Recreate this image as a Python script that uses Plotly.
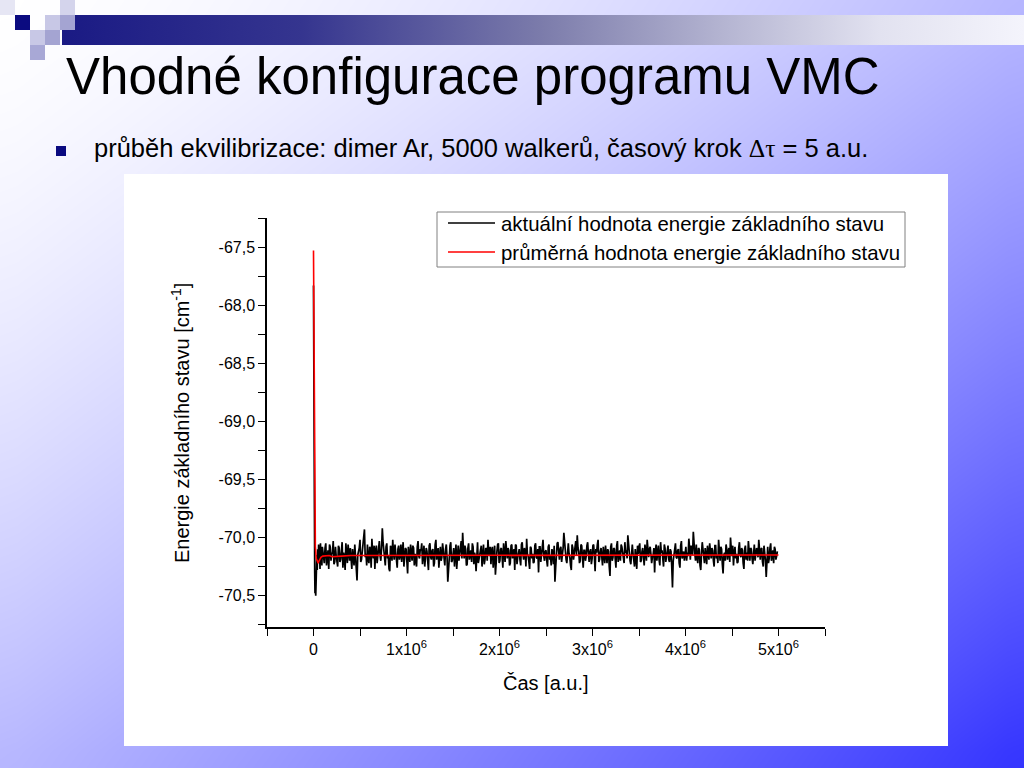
import plotly.graph_objects as go

W, H = 1024, 768

# ---------------- data ----------------
black_early_x = [0, 2000, 4000, 6000, 8000, 10000, 13000, 16000, 20000, 24000, 28000,
                 32000, 36000, 40000, 45000, 50000, 55000, 60000, 65000, 70000, 75000,
                 80000, 85000, 90000, 95000]
black_early_y = [-67.83, -68.6, -69.36, -69.6, -69.77, -70.1, -70.3, -70.48, -70.42, -70.5,
                 -70.3, -70.38, -70.15, -70.28, -70.1, -70.22, -70.06, -70.2, -70.12, -70.27,
                 -70.05, -70.18, -70.1, -70.24, -70.08]

noise_start = 100000
noise_step = 16000
# samples at noise_start + i*noise_step
black_noise_a = [
    -70.12, -70.22, -70.05, -70.18, -70.27, -70.08, -70.14, -70.03, -70.21, -70.16,
    -70.25, -70.09, -70.19, -70.04, -70.13, -70.28, -70.11, -70.06, -70.20, -70.15,
    -70.10, -70.24, -70.17, -70.37, -70.12, -70.02, -70.19, -70.08, -69.93, -70.14,
    -70.06, -70.22, -70.10, -70.01, -70.18, -70.27, -70.07, -70.13, -70.03, -70.20,
    -69.92, -70.11, -70.24, -70.05, -70.16, -70.29, -70.09, -70.02, -70.19, -70.12,
    -70.26, -70.07, -70.15, -70.21, -70.04, -70.17, -70.10, -70.31, -70.13, -70.06,
    -70.20, -70.09, -70.14, -70.25, -70.03, -70.18, -70.11, -70.23, -70.07, -70.16,
    -70.12, -70.28, -70.05, -70.19, -70.10, -70.22, -70.02, -70.15, -70.26, -70.08,
    -70.17, -70.11, -70.24, -70.06, -70.38, -70.13, -70.04, -70.20, -70.09, -70.16,
    -70.27, -70.07, -70.14, -70.03, -69.96, -70.18, -70.10, -70.23, -70.05, -70.15,
    -70.21, -70.08, -70.13, -70.29, -70.04, -70.17, -70.11, -70.25, -70.06, -70.19,
    -70.10, -70.02, -70.16, -70.23, -70.08, -70.14, -70.32, -70.12, -70.05, -70.20,
    -70.09, -70.26, -70.13, -70.03, -70.18, -70.11, -70.22, -70.06, -70.15, -70.28,
    -70.07, -70.17, -70.10, -70.24, -70.04, -70.19, -70.12, -70.01, -70.16, -70.27,
    -70.09, -70.14, -70.21, -70.05, -70.18, -70.30, -70.08, -70.13, -70.02, -70.20,
    -70.11, -70.25, -70.06, -70.16, -70.10, -70.23, -70.38, -70.12, -70.04, -70.19,
    -70.08, -70.15, -69.96, -70.13, -70.22, -70.05, -70.17, -70.28, -70.09, -70.14,
    -70.03, -69.98, -70.12, -70.20, -70.07, -70.26, -70.11, -70.16, -70.04, -70.21,
    -70.10, -70.18, -70.06, -70.29, -70.13, -70.02, -70.19, -70.09, -70.24, -70.15,
    -70.07, -70.22, -70.12, -70.33, -70.05, -70.17, -70.10, -70.26, -70.03, -70.14,
    -70.20, -70.08, -70.16, -70.04, -70.11, -69.98, -70.13, -70.23, -70.06, -70.18,
    -70.10, -70.27, -70.14, -70.05, -70.20, -70.09, -70.24, -70.12, -70.02, -70.17,
    -70.08, -70.22, -70.15, -70.30, -70.06, -70.13, -70.19, -70.04, -70.11, -70.25,
    -70.09, -70.16, -70.07, -70.21, -70.12, -70.43, -70.14, -70.05, -70.18, -70.10,
    -70.26, -70.03, -70.15, -70.20, -70.08, -70.13, -70.01, -70.19, -70.11, -69.95,
    -70.14, -70.06, -70.22, -70.10, -70.28, -70.04, -70.17, -70.09, -70.23, -70.12,
    -70.05, -70.18, -70.11, -70.25, -70.07, -70.15, -70.02, -70.20, -70.10, -70.31,
    -70.13, -70.06, -70.19, -70.09, -70.00, -70.16, -70.24, -70.08, -70.14, -70.21,
    -70.04, -70.17, -70.11, -70.27, -70.07, -70.13, -70.03, -70.20, -70.10, -70.23,
    -70.06, -70.16, -70.12, -70.02, -70.19, -70.09, -70.25, -70.14, -70.34, -70.08,
    -70.18, -70.05, -70.15, -70.22, -70.10, -70.16,
]
# samples half a step later (noise_start + i*noise_step + noise_step/2)
black_noise_b = [
    -70.17, -70.09, -70.24, -70.11, -70.06, -70.20, -70.13, -70.23, -70.08, -70.19,
    -70.07, -70.21, -70.12, -70.26, -70.18, -70.05, -70.22, -70.14, -70.09, -70.27,
    -70.20, -70.06, -70.30, -70.15, -70.09, -70.21, -70.11, -70.01, -70.17, -70.24,
    -70.19, -70.08, -70.26, -70.14, -70.07, -70.11, -70.22, -70.05, -70.16, -70.09,
    -70.04, -70.23, -70.08, -70.18, -70.27, -70.07, -70.20, -70.13, -70.06, -70.24,
    -70.10, -70.19, -70.06, -70.12, -70.25, -70.09, -70.28, -70.08, -70.21, -70.17,
    -70.07, -70.24, -70.19, -70.08, -70.16, -70.10, -70.05, -70.15, -70.25, -70.09,
    -70.21, -70.07, -70.17, -70.11, -70.25, -70.06, -70.19, -70.09, -70.13, -70.20,
    -70.05, -70.22, -70.10, -70.17, -70.28, -70.07, -70.21, -70.12, -70.25, -70.06,
    -70.13, -70.20, -70.06, -70.18, -70.10, -70.07, -70.24, -70.09, -70.19, -70.11,
    -70.05, -70.23, -70.16, -70.08, -70.22, -70.12, -70.07, -70.15, -70.23, -70.09,
    -70.20, -70.13, -70.08, -70.11, -70.26, -70.07, -70.18, -70.06, -70.22, -70.10,
    -70.16, -70.05, -70.21, -70.17, -70.09, -70.24, -70.07, -70.18, -70.10, -70.06,
    -70.23, -70.11, -70.19, -70.06, -70.15, -70.09, -70.25, -70.14, -70.21, -70.08,
    -70.18, -70.22, -70.07, -70.17, -70.10, -70.08, -70.21, -70.06, -70.16, -70.12,
    -70.20, -70.08, -70.19, -70.24, -70.13, -70.07, -70.26, -70.05, -70.15, -70.10,
    -70.21, -70.09, -70.07, -70.19, -70.11, -70.14, -70.24, -70.06, -70.19, -70.08,
    -70.15, -70.09, -70.22, -70.06, -70.17, -70.11, -70.20, -70.07, -70.14, -70.12,
    -70.23, -70.07, -70.16, -70.10, -70.06, -70.21, -70.12, -70.17, -70.08, -70.22,
    -70.16, -70.10, -70.25, -70.08, -70.20, -70.09, -70.18, -70.07, -70.21, -70.11,
    -70.06, -70.15, -70.22, -70.13, -70.18, -70.08, -70.20, -70.10, -70.14, -70.25,
    -70.19, -70.07, -70.08, -70.21, -70.12, -70.17, -70.06, -70.20, -70.16, -70.10,
    -70.14, -70.17, -70.09, -70.12, -70.20, -70.07, -70.24, -70.13, -70.18, -70.06,
    -70.21, -70.11, -70.19, -70.10, -70.25, -70.20, -70.08, -70.17, -70.11, -70.22,
    -70.07, -70.18, -70.12, -70.08, -70.20, -70.16, -70.09, -70.07, -70.15, -70.10,
    -70.20, -70.17, -70.09, -70.24, -70.14, -70.10, -70.22, -70.15, -70.07, -70.19,
    -70.16, -70.09, -70.20, -70.07, -70.18, -70.22, -70.11, -70.08, -70.23, -70.15,
    -70.20, -70.10, -70.12, -70.21, -70.10, -70.07, -70.13, -70.18, -70.22, -70.09,
    -70.15, -70.09, -70.22, -70.10, -70.19, -70.20, -70.11, -70.09, -70.18, -70.14,
    -70.20, -70.09, -70.17, -70.12, -70.10, -70.21, -70.07, -70.20, -70.15, -70.22,
    -70.09, -70.20, -70.11, -70.08, -70.19, -70.12,
]

red_x = [0, 3000, 6000, 10000, 15000, 20000, 30000, 40000, 50000, 60000, 70000, 80000,
         100000, 130000, 170000, 200000, 250000, 300000, 400000, 600000, 1000000,
         2000000, 3000000, 4000000, 5000000]
red_y = [-67.53, -67.9, -68.6, -69.4, -69.9, -70.08, -70.18, -70.21, -70.22, -70.2, -70.18,
         -70.17, -70.16, -70.16, -70.155, -70.165, -70.16, -70.16, -70.155, -70.155, -70.15,
         -70.15, -70.15, -70.15, -70.15]

series_names = ["aktuální hodnota energie základního stavu",
                "průměrná hodnota energie základního stavu"]
series_colors = ["black", "#ff0000"]

y_tick_vals = [-70.5, -70.0, -69.5, -69.0, -68.5, -68.0, -67.5]
y_tick_text = ["-70,5", "-70,0", "-69,5", "-69,0", "-68,5", "-68,0", "-67,5"]
x_tick_vals = [0, 1e6, 2e6, 3e6, 4e6, 5e6]
x_tick_text = ["0", "1x10<sup>6</sup>", "2x10<sup>6</sup>", "3x10<sup>6</sup>",
               "4x10<sup>6</sup>", "5x10<sup>6</sup>"]

black_x = list(black_early_x)
black_y = list(black_early_y)
for i, (va, vb) in enumerate(zip(black_noise_a, black_noise_b)):
    black_x += [noise_start + i * noise_step, noise_start + i * noise_step + noise_step // 2]
    black_y += [va, vb]

FONT = "Liberation Sans, Arial, sans-serif"


def px(x):
    return x / W


def py(y):
    return 1 - y / H


fig = go.Figure()

# ---------- slide background (decor axes x/y in pixel units) ----------
nx, ny = 33, 25
bx = [-16 + i * (1056 / (nx - 1)) for i in range(nx)]
by = [-16 + j * (800 / (ny - 1)) for j in range(ny)]
bz = [[((min(max(x, 0), W) / W + min(max(y, 0), H) / H) / 2) ** 1.5 for x in bx] for y in by]
fig.add_trace(go.Heatmap(x=bx, y=by, z=bz, zsmooth="best", showscale=False, hoverinfo="skip",
                         colorscale=[[0, "#ffffff"], [1, "#3232ff"]], zmin=0, zmax=1,
                         xaxis="x", yaxis="y"))

# top bar with gradient
fig.add_trace(go.Scatter(x=[62, 1024, 1024, 62, 62], y=[15, 15, 45, 45, 15], mode="lines",
                         line=dict(width=0), fill="toself", showlegend=False, hoverinfo="skip",
                         fillgradient=dict(type="horizontal",
                                           colorscale=[[0, "#1a1a84"], [0.25, "#35358f"],
                                                       [0.5, "#7c7cab"], [0.7, "#b8b8d4"],
                                                       [0.85, "#e2e2f0"], [1, "#f4f4fc"]]),
                         xaxis="x", yaxis="y"))

# white chart panel
fig.add_trace(go.Scatter(x=[124, 948, 948, 124, 124], y=[174, 174, 746, 746, 174], mode="lines",
                         line=dict(width=0), fill="toself", fillcolor="white",
                         showlegend=False, hoverinfo="skip", xaxis="x", yaxis="y"))

# ---------- chart ----------
fig.add_trace(go.Scatter(x=black_x, y=black_y, mode="lines", name=series_names[0],
                         showlegend=False,
                         line=dict(color=series_colors[0], width=1.7), xaxis="x2", yaxis="y2"))
fig.add_trace(go.Scatter(x=red_x, y=red_y, mode="lines", name=series_names[1],
                         showlegend=False,
                         line=dict(color=series_colors[1], width=1.6), xaxis="x2", yaxis="y2"))

shapes = []
squares = [
    (15, 15, "#0b0b80"), (45, 15, "#c8c8e6"), (60, 15, "#a4a4d2"), (60, 0, "#d4d4ec"),
    (30, 30, "#c8c8e6"), (45, 30, "#a4a4d2"), (30, 45, "#a8a8d6"), (0, 0, "#e6e6f4"),
]
for sx, sy, c in squares:
    shapes.append(dict(type="rect", xref="x", yref="y", x0=sx, x1=sx + 15, y0=sy, y1=sy + 15,
                       fillcolor=c, line=dict(width=0), layer="above"))
# bullet square
shapes.append(dict(type="rect", xref="x", yref="y", x0=56, x1=66, y0=146, y1=156,
                   fillcolor="#0a0a80", line=dict(width=0), layer="above"))

# legend box (drawn manually to match the original's compact layout)
shapes.append(dict(type="rect", xref="paper", yref="paper", x0=px(437), x1=px(905),
                   y0=py(267), y1=py(212), fillcolor="white",
                   line=dict(color="#808080", width=1), layer="above"))
legend_rows = [223, 252]
annotations = []
for name, color, ry, lw in zip(series_names, series_colors, legend_rows, [1.3, 1.6]):
    shapes.append(dict(type="line", xref="paper", yref="paper", x0=px(448), x1=px(495),
                       y0=py(ry), y1=py(ry), line=dict(color=color, width=lw), layer="above"))
    annotations.append(dict(text=name, x=px(499), y=py(ry + 1), xref="paper", yref="paper",
                            xanchor="left", yanchor="middle", showarrow=False,
                            font=dict(family=FONT, size=20.4, color="black")))

annotations += [
    dict(text="Vhodné konfigurace programu VMC", x=px(64), y=py(76), xref="paper", yref="paper",
         xanchor="left", yanchor="middle", showarrow=False,
         font=dict(family=FONT, size=51, color="black")),
    dict(text="průběh ekvilibrizace: dimer Ar, 5000 walkerů, časový krok "
              "<span style='font-family:Liberation Serif, Times New Roman, serif'>Δτ</span> = 5 a.u.",
         x=px(92), y=py(149), xref="paper", yref="paper", xanchor="left", yanchor="middle",
         showarrow=False, font=dict(family=FONT, size=25.5, color="black")),
    dict(text="Energie základního stavu [cm<sup>-1</sup>]", x=px(180), y=py(423), xref="paper",
         yref="paper", xanchor="center", yanchor="middle", textangle=-90, showarrow=False,
         font=dict(family=FONT, size=20, color="black")),
    dict(text="Čas [a.u.]", x=px(546), y=py(683), xref="paper", yref="paper",
         xanchor="center", yanchor="middle", showarrow=False,
         font=dict(family=FONT, size=20, color="black")),
]

fig.update_layout(
    width=W, height=H, margin=dict(l=0, r=0, t=0, b=0),
    paper_bgcolor="white", plot_bgcolor="rgba(0,0,0,0)",
    showlegend=False,
    xaxis=dict(domain=[0, 1], range=[0, W], visible=False, fixedrange=True),
    yaxis=dict(domain=[0, 1], range=[H, 0], visible=False, fixedrange=True),
    xaxis2=dict(domain=[px(267), px(825)], range=[-0.5e6, 5.5e6], anchor="y2",
                showgrid=False, zeroline=False, showline=True, linecolor="black", linewidth=1.5,
                ticks="outside", ticklen=7, tickwidth=1.2, tickcolor="black",
                tickvals=x_tick_vals, ticktext=x_tick_text,
                tickfont=dict(family=FONT, size=16, color="black"),
                minor=dict(dtick=0.5e6, tick0=-0.5e6, ticks="outside", ticklen=7,
                           tickwidth=1.2, tickcolor="black", showgrid=False)),
    yaxis2=dict(domain=[py(627), py(218)], range=[-70.77, -67.25], anchor="x2",
                showgrid=False, zeroline=False, showline=True, linecolor="black", linewidth=1.5,
                ticks="outside", ticklen=7, tickwidth=1.2, tickcolor="black",
                tickvals=y_tick_vals, ticktext=y_tick_text,
                tickfont=dict(family=FONT, size=16, color="black"),
                minor=dict(dtick=0.25, tick0=-70.75, ticks="outside", ticklen=7,
                           tickwidth=1.2, tickcolor="black", showgrid=False)),
    shapes=shapes,
    annotations=annotations,
)

fig.write_html("out.html", config={"displayModeBar": False},
               post_script="document.body.style.margin='0';document.body.style.overflow='hidden';")
